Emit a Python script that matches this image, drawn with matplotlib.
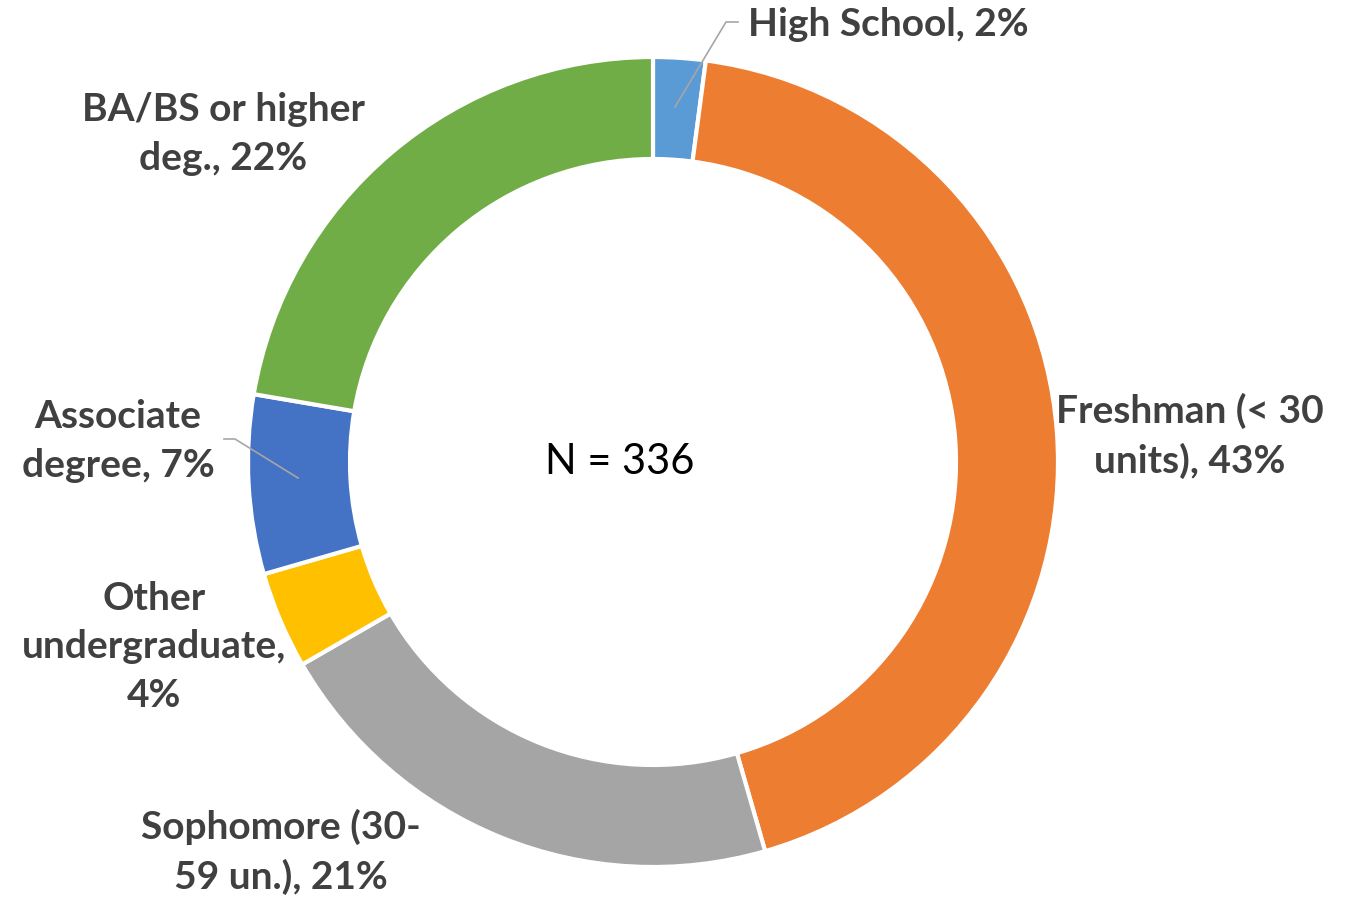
import matplotlib
matplotlib.use("Agg")
import matplotlib.pyplot as plt

categories = ["High School", "Freshman (< 30\nunits)", "Sophomore (30-\n59 un.)",
              "Other\nundergraduate,\n", "Associate\ndegree", "BA/BS or higher\ndeg."]
counts = [7, 146, 71, 13, 24, 75]
pct_labels = ["High School, 2%", "Freshman (< 30\nunits), 43%", "Sophomore (30-\n59 un.), 21%",
              "Other\nundergraduate,\n4%", "Associate\ndegree, 7%", "BA/BS or higher\ndeg., 22%"]
colors = ["#5B9BD5", "#ED7D31", "#A5A5A5", "#FFC000", "#4472C4", "#70AD47"]
center_text = "N = 336"

W, H = 1352, 903
fig = plt.figure(figsize=(W / 100, H / 100), dpi=100)
ax = fig.add_axes([0, 0, 1, 1])

cx, cy, R = 653, 463, 405
ax.pie(counts, colors=colors, center=(cx, cy), radius=R, startangle=-90, counterclock=True,
       wedgeprops=dict(width=102, edgecolor="white", linewidth=3))
ax.set_xlim(0, W)
ax.set_ylim(H, 0)
ax.set_aspect("equal")
ax.axis("off")

font = "Lato"
tc = "#404040"
fs = 28
ls = 1.45
ax.text(748, 24, pct_labels[0], ha="left", va="center", fontsize=fs, fontweight="bold",
        color=tc, family=font)
ax.text(1190, 436, pct_labels[1], ha="center", va="center", fontsize=fs, fontweight="bold",
        color=tc, family=font, linespacing=ls)
ax.text(281, 852, pct_labels[2], ha="center", va="center", fontsize=fs, fontweight="bold",
        color=tc, family=font, linespacing=ls)
ax.text(154, 647, pct_labels[3], ha="center", va="center", fontsize=fs, fontweight="bold",
        color=tc, family=font, linespacing=ls)
ax.text(118, 441, pct_labels[4], ha="center", va="center", fontsize=fs, fontweight="bold",
        color=tc, family=font, linespacing=ls)
ax.text(223, 134, pct_labels[5], ha="center", va="center", fontsize=fs, fontweight="bold",
        color=tc, family=font, linespacing=ls)

# leader lines
ax.plot([675, 726, 738], [108, 23, 23], color="#A6A6A6", lw=1.2)
ax.plot([298, 235, 224], [479, 440, 440], color="#A6A6A6", lw=1.2)

ax.text(620, 462, center_text, ha="center", va="center", fontsize=30, color="black", family=font)

fig.savefig("out.png", dpi=100)
